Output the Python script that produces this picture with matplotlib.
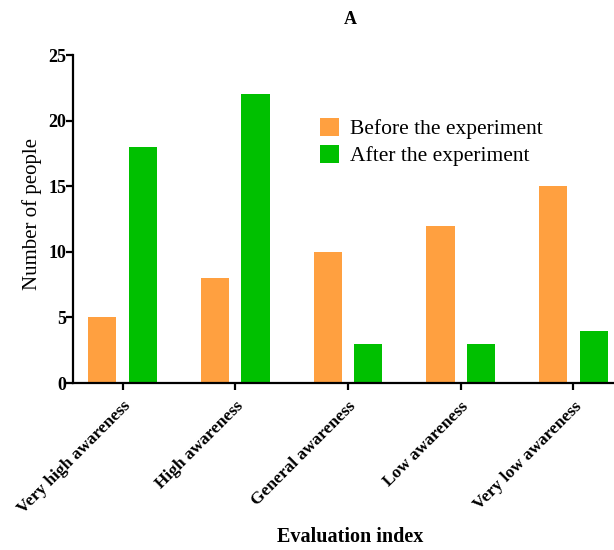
import matplotlib
matplotlib.use("Agg")
import matplotlib.pyplot as plt
import numpy as np

categories = ["Very high awareness", "High awareness", "General awareness",
              "Low awareness", "Very low awareness"]
before = [5, 8, 10, 12, 15]
after = [18, 22, 3, 3, 4]
yticks = [0, 5, 10, 15, 20, 25]

plt.rcParams['font.family'] = ['Liberation Serif', 'DejaVu Serif']

fig = plt.figure(figsize=(6.14, 5.5), dpi=100)
ax = fig.add_axes([73/614, 167/550, 541/614, 328/550])

x = np.arange(len(categories))
w = 0.25
off = 0.18
ax.bar(x - off, before, width=w, color="#FFA040", label="Before the experiment")
ax.bar(x + off, after, width=w, color="#00C000", label="After the experiment")

ax.set_xlim(-0.44, 4.36)
ax.set_ylim(0, 25)
ax.set_yticks(yticks)
ax.set_xticks(x)
ax.set_xticklabels(categories, rotation=45, ha="right", rotation_mode="anchor",
                   fontsize=12.5, fontweight="bold")
for lab in ax.get_yticklabels():
    lab.set_fontweight("bold")
    lab.set_fontsize(13)

for s in ["top", "right"]:
    ax.spines[s].set_visible(False)
for s in ["left", "bottom"]:
    ax.spines[s].set_linewidth(1.6)
ax.tick_params(axis="y", width=1.6, length=5, direction="out", pad=0)
ax.tick_params(axis="x", width=1.6, length=5, direction="out", pad=6)

ax.set_ylabel("Number of people", fontsize=15)
ax.yaxis.set_label_coords((32 - 73) / 541, (383 - 214) / 328)
ax.set_xlabel("Evaluation index", fontsize=14.5, fontweight="bold")
ax.xaxis.set_label_coords((350 - 73) / 541, (383 - 537) / 328)
ax.xaxis.label.set_va("center")
ax.yaxis.label.set_va("center")

fig.text(350/614, 1 - 20/550, "A", fontsize=13, fontweight="bold", ha="center", va="center")

leg = ax.legend(loc="upper left", bbox_to_anchor=((320 - 73) / 541, (383 - 118) / 328),
                frameon=False, fontsize=15.5, handlelength=0.9, handleheight=0.9,
                handletextpad=0.5, labelspacing=0.25, borderaxespad=0, borderpad=0)

fig.savefig("out.png", dpi=100)
